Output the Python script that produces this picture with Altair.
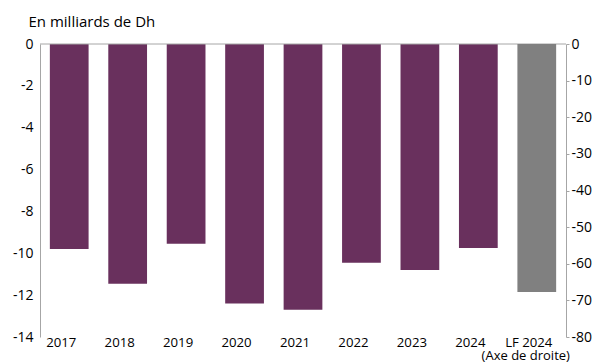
import altair as alt
import pandas as pd

categories = ["2017", "2018", "2019", "2020", "2021", "2022", "2023", "2024", "LF 2024"]
left_years = ["2017", "2018", "2019", "2020", "2021", "2022", "2023", "2024"]
left_values = [-9.8, -11.45, -9.55, -12.4, -12.7, -10.45, -10.8, -9.75]
right_category = ["LF 2024"]
right_values = [-67.7]
right_note = ["(Axe de droite)"]
left_ticks = [0, -2, -4, -6, -8, -10, -12, -14]
right_ticks = [0, -10, -20, -30, -40, -50, -60, -70, -80]

W, H = 526, 293
PURPLE = "#69305D"
GRAY = "#808080"
AXIS_GRAY = "#A6A6A6"
FONT = "Open Sans"

left_df = pd.DataFrame({"cat": left_years, "val": left_values})
right_df = pd.DataFrame({"cat": right_category, "val": right_values, "note": right_note})
zero_df = pd.DataFrame({"z": [0]})

x_scale = alt.Scale(domain=categories, paddingInner=0.337, paddingOuter=0.1685)
x_axis = alt.Axis(
    title=None, domain=False, ticks=False, labelAngle=0, labelPadding=-1,
    labelOffset=-8, labelFontSize=13.2,
)

left_bars = alt.Chart(left_df).mark_bar(color=PURPLE).encode(
    x=alt.X("cat:N", scale=x_scale, axis=x_axis),
    y=alt.Y(
        "val:Q",
        scale=alt.Scale(domain=[-14, 0], nice=False, zero=False),
        axis=alt.Axis(
            values=left_ticks, title="En milliards de Dh", titleAngle=0,
            titleX=-12, titleY=-23, titleAlign="left", titleBaseline="middle",
            ticks=False, grid=False, domainColor=AXIS_GRAY, labelPadding=7,
            labelExpr="'' + datum.value",
        ),
    ),
)

top_rule = alt.Chart(zero_df).mark_rule(color=AXIS_GRAY, strokeWidth=1).encode(
    y=alt.Y("z:Q"),
    x=alt.value(0),
    x2=alt.value(W),
)

left_layer = alt.layer(left_bars, top_rule)

right_bar = alt.Chart(right_df).mark_bar(color=GRAY).encode(
    x=alt.X("cat:N", scale=x_scale, axis=x_axis),
    y=alt.Y(
        "val:Q",
        scale=alt.Scale(domain=[-80, 0], nice=False, zero=False),
        axis=alt.Axis(
            orient="right", values=right_ticks, title=None, tickSize=3,
            tickColor=AXIS_GRAY, domainColor=AXIS_GRAY, grid=False, labelPadding=2,
            labelExpr="'' + datum.value",
        ),
    ),
)

right_note_text = alt.Chart(right_df).mark_text(
    font=FONT, fontSize=13, color="black", baseline="alphabetic", dx=-11,
).encode(
    x=alt.X("cat:N", scale=x_scale, axis=x_axis),
    y=alt.value(H + 23),
    text="note:N",
)

right_layer = alt.layer(right_bar, right_note_text)

chart = (
    alt.layer(left_layer, right_layer)
    .resolve_scale(y="independent")
    .properties(
        width=W, height=H, autosize="none",
        padding={"left": 40, "top": 44, "right": 31, "bottom": 26},
    )
    .configure_view(stroke=None)
    .configure_axis(
        labelFont=FONT, labelFontSize=14, labelColor="black",
        titleFont=FONT, titleFontSize=15, titleColor="black", titleFontWeight="normal",
    )
)

chart.save("out.html", embed_options={"renderer": "svg", "actions": False})
